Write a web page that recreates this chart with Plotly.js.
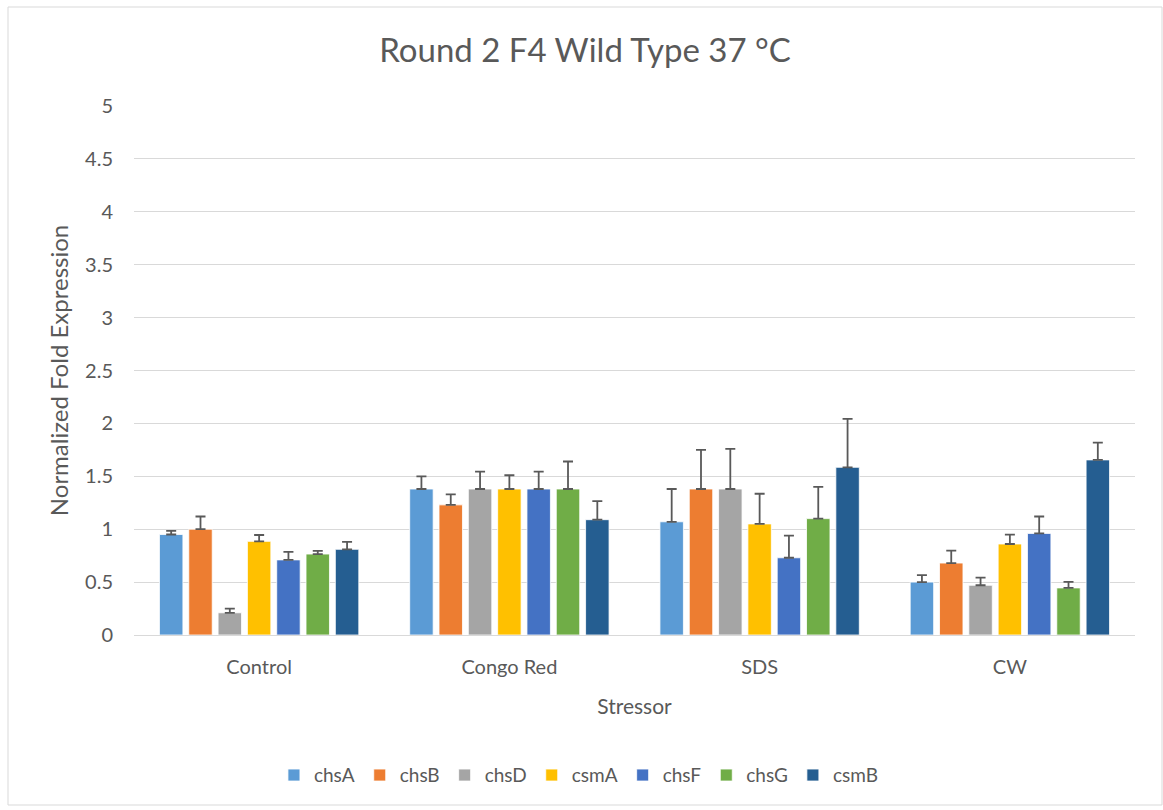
<!DOCTYPE html>
<html>
<head>
<meta charset="utf-8">
<script src="https://cdn.plot.ly/plotly-3.0.1.min.js"></script>
<style>html,body{margin:0;padding:0;background:#fff;}#chart{width:1163px;height:810px;}</style>
</head>
<body>
<div id="chart"></div>
<script>
const categories = ["Control", "Congo Red", "SDS", "CW"];
const seriesNames = ["chsA", "chsB", "chsD", "csmA", "chsF", "chsG", "csmB"];
const chsA = [0.95, 1.38, 1.07, 0.50];
const chsB = [1.00, 1.23, 1.38, 0.68];
const chsD = [0.21, 1.38, 1.38, 0.47];
const csmA = [0.885, 1.38, 1.05, 0.86];
const chsF = [0.71, 1.38, 0.73, 0.96];
const chsG = [0.765, 1.38, 1.10, 0.445];
const csmB = [0.81, 1.09, 1.585, 1.655];
const chsA_err = [0.035, 0.12, 0.31, 0.066];
const chsB_err = [0.12, 0.10, 0.37, 0.117];
const chsD_err = [0.04, 0.165, 0.38, 0.073];
const csmA_err = [0.06, 0.13, 0.285, 0.088];
const chsF_err = [0.075, 0.165, 0.21, 0.16];
const chsG_err = [0.03, 0.26, 0.30, 0.057];
const csmB_err = [0.07, 0.176, 0.457, 0.164];
const yTickVals = [0, 0.5, 1, 1.5, 2, 2.5, 3, 3.5, 4, 4.5, 5];
const yTickText = ["0", "0.5", "1", "1.5", "2", "2.5", "3", "3.5", "4", "4.5", "5"];

const values = [chsA, chsB, chsD, csmA, chsF, chsG, csmB];
const errors = [chsA_err, chsB_err, chsD_err, csmA_err, chsF_err, chsG_err, csmB_err];
const colors = ["#5B9BD5", "#ED7D31", "#A5A5A5", "#FFC000", "#4472C4", "#70AD47", "#255E91"];

const traces = seriesNames.map((name, i) => ({
  type: "bar",
  name: name,
  x: categories,
  y: values[i],
  marker: {color: colors[i], line: {color: "#ffffff", width: 0.8}},
  error_y: {type: "data", array: errors[i], symmetric: false, arrayminus: errors[i].map(() => 0),
            visible: true, color: "#595959", thickness: 1.8, width: 5}
}));

const fontFam = "Lato, 'Open Sans', sans-serif";
const layout = {
  width: 1163, height: 810,
  paper_bgcolor: "#ffffff", plot_bgcolor: "#ffffff",
  margin: {l: 134, r: 28, t: 106, b: 175},
  font: {family: fontFam, color: "#595959", size: 20},
  title: {text: "Round 2 F4 Wild Type 37 °C", font: {family: fontFam, size: 33, color: "#595959"},
          x: 0.503, xref: "container", y: 1 - 50/810, yref: "container", yanchor: "middle"},
  barmode: "group",
  bargap: 0.18,
  bargroupgap: 0.2,
  showlegend: true,
  legend: {orientation: "h", x: 0.444, xref: "paper", xanchor: "center", y: -0.265, yanchor: "middle",
           font: {family: fontFam, size: 19, color: "#595959"}, traceorder: "normal", itemwidth: 30},
  xaxis: {
    type: "category",
    showgrid: false,
    showline: true, linecolor: "#D9D9D9", linewidth: 1,
    ticks: "", ticklabelstandoff: 14,
    tickfont: {family: fontFam, size: 20, color: "#595959"},
    title: {text: "Stressor", font: {family: fontFam, size: 21, color: "#595959"}, standoff: 22},
    automargin: false
  },
  yaxis: {
    range: [0, 5],
    tickvals: yTickVals, ticktext: yTickText,
    showgrid: true, gridcolor: "#D9D9D9", gridwidth: 1,
    zeroline: true, zerolinecolor: "#D9D9D9", zerolinewidth: 1,
    showline: false, ticks: "", ticklabelstandoff: 20,
    tickfont: {family: fontFam, size: 20, color: "#595959"},
    title: {text: "Normalized Fold Expression", font: {family: fontFam, size: 24, color: "#595959"}, standoff: 9},
    automargin: false
  },
  shapes: [{type: "rect", xref: "paper", yref: "paper",
            x0: -126/1001, x1: 1 + 27/1001, y0: -170/529, y1: 1 + 99/529,
            line: {color: "#D9D9D9", width: 1}, fillcolor: "rgba(0,0,0,0)", layer: "below"}]
};

Plotly.newPlot("chart", traces, layout, {displayModeBar: false, staticPlot: true});
</script>
</body>
</html>
